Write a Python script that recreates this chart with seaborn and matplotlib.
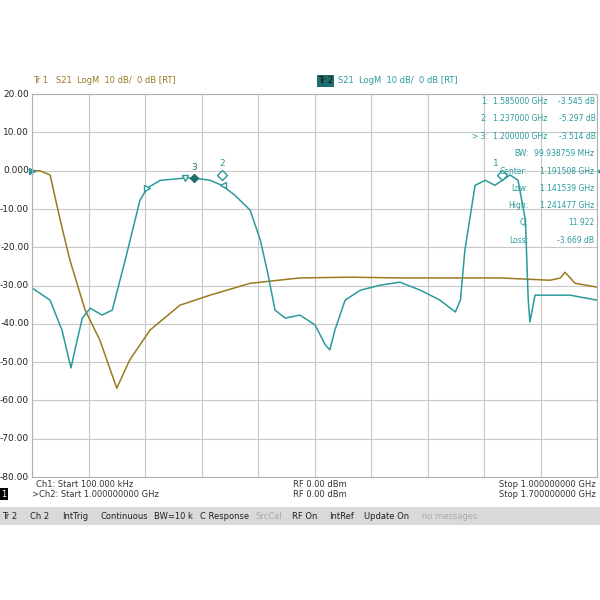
import numpy as np
import matplotlib
matplotlib.use("Agg")
import matplotlib.pyplot as plt
import seaborn as sns
import pandas as pd

# x in grid divisions (0..10), y in dB
tr2_div = [0.0, 0.32, 0.53, 0.69, 0.78, 0.89, 1.03, 1.24, 1.42, 1.65, 1.91, 2.04, 2.27, 2.71, 2.88, 3.15, 3.36, 3.59, 3.86, 4.04, 4.18, 4.30, 4.48, 4.74, 5.01, 5.19, 5.27, 5.36, 5.54, 5.81, 6.16, 6.51, 6.87, 7.22, 7.49, 7.58, 7.66, 7.84, 8.02, 8.19, 8.32, 8.46, 8.60, 8.73, 8.78, 8.81, 8.90, 9.17, 9.52, 10.0]
tr2_db = [-30.6, -33.8, -41.6, -51.5, -45.5, -38.5, -35.9, -37.7, -36.4, -23.3, -7.7, -4.5, -2.5, -1.9, -1.9, -2.5, -3.8, -6.4, -10.3, -18.1, -27.3, -36.4, -38.5, -37.7, -40.3, -45.5, -46.8, -41.6, -33.8, -31.2, -29.9, -29.1, -31.2, -33.8, -36.9, -33.8, -20.7, -3.8, -2.5, -3.8, -2.5, -1.1, -2.5, -12.9, -33.8, -39.5, -32.5, -32.5, -32.5, -33.8]

tr1_div = [0.0, 0.14, 0.32, 0.50, 0.67, 0.94, 1.20, 1.50, 1.73, 2.09, 2.62, 3.15, 3.86, 4.74, 5.63, 6.51, 7.40, 8.28, 9.17, 9.35, 9.43, 9.61, 10.0]
tr1_db = [0.0, 0.0, -1.1, -12.9, -23.3, -36.4, -44.2, -56.8, -49.4, -41.6, -35.1, -32.5, -29.4, -28.0, -27.8, -28.0, -28.0, -28.0, -28.6, -28.0, -26.5, -29.4, -30.4]

TEAL = "#2b9a9c"
BROWN = "#9a7a1e"
FS = 5.5

sns.set_style("white")
fig = plt.figure(figsize=(6, 6), dpi=100)
ax = fig.add_axes([0.0533, 0.205, 0.942, 0.638])

df1 = pd.DataFrame({"x": tr1_div, "y": tr1_db})
df2 = pd.DataFrame({"x": tr2_div, "y": tr2_db})
sns.lineplot(data=df1, x="x", y="y", color=BROWN, lw=1.1, ax=ax)
sns.lineplot(data=df2, x="x", y="y", color=TEAL, lw=1.1, ax=ax)

ax.set_xlim(0, 10)
ax.set_ylim(-80, 20)
ax.set_xticks(np.arange(0, 11))
ax.set_yticks(np.arange(-80, 21, 10))
ax.set_xticklabels([])
ax.set_yticklabels([])
ax.grid(True, color="#c8c8c8", lw=0.8)
ax.tick_params(length=0)
for s in ax.spines.values():
    s.set_color("#b0b0b0")
ax.set_xlabel("")
ax.set_ylabel("")
for v in range(-80, 21, 10):
    lab = "0.000" if v == 0 else f"{v:.2f}"
    ax.text(-0.05, v, lab, ha="right", va="center", fontsize=6.5, color="#222222")

# markers
ax.plot([2.04], [-4.5], marker=">", ms=5, mfc="white", mec=TEAL)
ax.plot([2.71], [-1.9], marker="v", ms=5, mfc="white", mec=TEAL)
ax.plot([2.86], [-1.9], marker="D", ms=4.5, color="#1f6f6f")
ax.plot([3.36], [-1.2], marker="D", ms=5, mfc="white", mec=TEAL)
ax.plot([3.38], [-3.8], marker="<", ms=5, mfc="white", mec=TEAL)
ax.plot([8.32], [-1.1], marker="D", ms=5, mfc="white", mec=TEAL)
ax.text(2.87, 0.3, "3", color="#1f6f6f", fontsize=6.5, ha="center")
ax.text(3.36, 1.3, "2", color=TEAL, fontsize=6.5, ha="center")
ax.text(8.2, 1.3, "1", color=TEAL, fontsize=6.5, ha="center")
ax.plot([0.0], [0.0], marker=">", ms=5, color=TEAL, clip_on=False)
ax.plot([10.05], [0.0], marker="<", ms=4, color=TEAL, clip_on=False)

# marker table
rows = [("1:", "1.585000 GHz", "-3.545 dB"), ("2:", "1.237000 GHz", "-5.297 dB"),
        ("> 3:", "1.200000 GHz", "-3.514 dB")]
for i, (a, b, c) in enumerate(rows):
    y = 18.2 - i * 4.6
    ax.text(8.07, y, a, color=TEAL, fontsize=FS, ha="right", va="center")
    ax.text(8.15, y, b, color=TEAL, fontsize=FS, ha="left", va="center")
    ax.text(9.97, y, c, color=TEAL, fontsize=FS, ha="right", va="center")
stats = [("BW:", "99.938759 MHz"), ("Center:", "1.191508 GHz"), ("Low:", "1.141539 GHz"),
         ("High:", "1.241477 GHz"), ("Q:", "11.922"), ("Loss:", "-3.669 dB")]
for i, (a, b) in enumerate(stats):
    y = 4.4 - i * 4.5
    ax.text(8.78, y, a, color=TEAL, fontsize=FS, ha="right", va="center")
    ax.text(9.95, y, b, color=TEAL, fontsize=FS, ha="right", va="center")

# header
fig.text(0.055, 0.861, "Tr 1   S21  LogM  10 dB/  0 dB [RT]", color=BROWN, fontsize=6)
fig.text(0.53, 0.861, "Tr 2", color="#111111", fontsize=6,
         bbox=dict(boxstyle="square,pad=0.15", fc="#1f6f6f", ec="none"))
fig.text(0.563, 0.861, "S21  LogM  10 dB/  0 dB [RT]", color=TEAL, fontsize=6)

# footer
fig.text(0.06, 0.188, "Ch1: Start 100.000 kHz", fontsize=6, color="#333333")
fig.text(0.053, 0.172, ">Ch2: Start 1.000000000 GHz", fontsize=6, color="#333333")
fig.text(0.488, 0.188, "RF 0.00 dBm", fontsize=6, color="#333333")
fig.text(0.488, 0.172, "RF 0.00 dBm", fontsize=6, color="#333333")
fig.text(0.993, 0.188, "Stop 1.000000000 GHz", fontsize=6, color="#333333", ha="right")
fig.text(0.993, 0.172, "Stop 1.700000000 GHz", fontsize=6, color="#333333", ha="right")
fig.text(0.002, 0.172, "1", fontsize=6, color="white",
         bbox=dict(boxstyle="square,pad=0.2", fc="black", ec="none"))

fig.patches.append(plt.Rectangle((0, 0.125), 1, 0.03, transform=fig.transFigure,
                                 fc="#d9d9d9", ec="none"))
items = [("Tr 2", 0.003, "#222"), ("Ch 2", 0.05, "#222"), ("IntTrig", 0.103, "#222"),
         ("Continuous", 0.167, "#222"), ("BW=10 k", 0.256, "#222"), ("C Response", 0.333, "#222"),
         ("SrcCal", 0.425, "#aaa"), ("RF On", 0.487, "#222"), ("IntRef", 0.548, "#222"),
         ("Update On", 0.607, "#222"), ("no messages", 0.703, "#aaa")]
for t, x, c in items:
    fig.text(x, 0.135, t, fontsize=6, color=c)

fig.savefig("out.png", dpi=100, facecolor="white")
